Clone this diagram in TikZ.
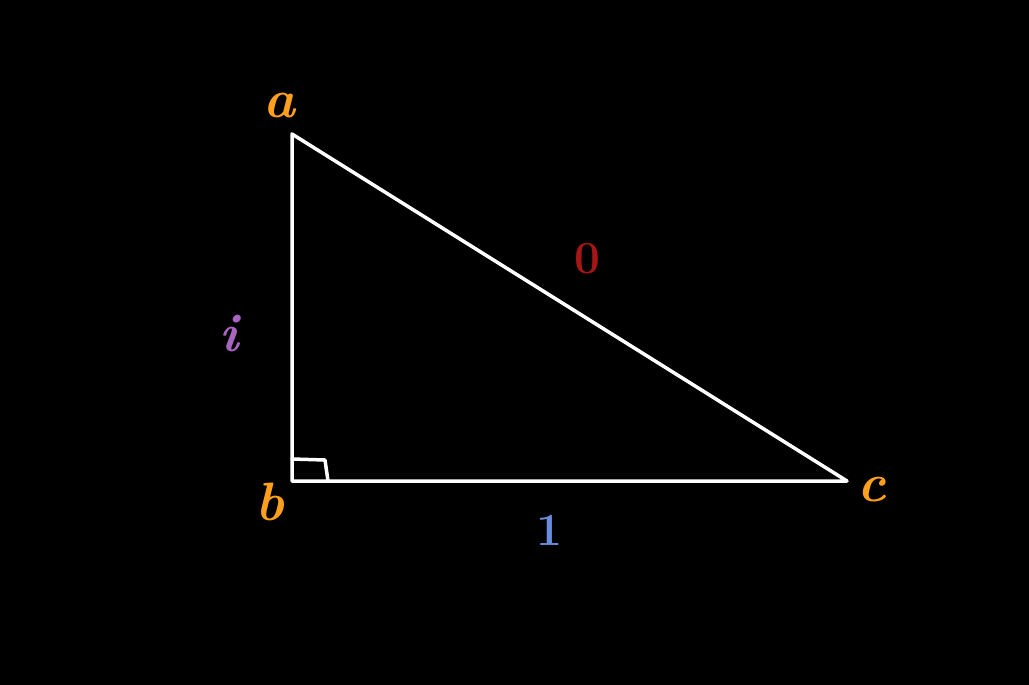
\documentclass[tikz,border=0pt]{standalone}
\begin{document}
\begin{tikzpicture}[x=1pt,y=-1pt,
  edge/.style={white,line width=3.5pt,line join=round,line cap=round},
  lbl/.style={font=\fontsize{54}{54}\selectfont\bfseries\itshape,inner sep=0pt},
  dig/.style={font=\fontsize{46}{46}\selectfont\bfseries,inner sep=0pt}]
\definecolor{orng}{HTML}{FFA01C}
\definecolor{purp}{HTML}{A865C0}
\definecolor{blu}{HTML}{6A8CDC}
\definecolor{rd}{HTML}{A51616}
\fill[black] (0,0) rectangle (1029,685);
\useasboundingbox (0,0) rectangle (1029,685);
\coordinate (A) at (292,134);
\coordinate (B) at (292,481);
\coordinate (C) at (847,481);
\coordinate (r1) at (292,459);
\coordinate (r2) at (325,460);
\coordinate (r3) at (328,481);
\draw[edge] (A) -- (B) -- (C) -- cycle;
\draw[edge] (r1) -- (r2) -- (r3);
\node[lbl,text=orng] (la) at (279,106) {a};
\node[lbl,text=orng] (lb) at (270,502) {b};
\node[lbl,text=orng] (lc) at (872,490) {c};
\node[lbl,text=purp] (li) at (229,334) {i};
\node[dig,text=blu] (l1) at (549,530) {1};
\node[dig,text=rd] (l0) at (587,259) {0};
\end{tikzpicture}
\end{document}
